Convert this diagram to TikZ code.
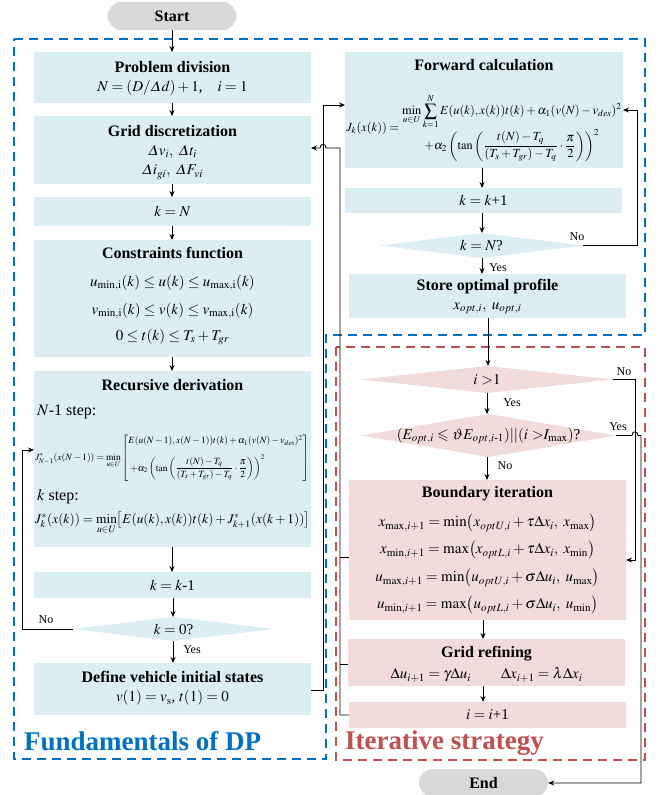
\documentclass[tikz,border=0pt]{standalone}
\usepackage{amsmath}
\usepackage{amssymb}
\usepackage{mathptmx}
\usepackage[no-math]{fontspec}
\setmainfont{Liberation Serif}
\usetikzlibrary{shapes.geometric,arrows.meta,calc}
\definecolor{bfill}{RGB}{218,238,243}
\definecolor{rfill}{RGB}{242,220,219}
\definecolor{pfill}{RGB}{217,217,217}
\definecolor{bframe}{RGB}{0,112,192}
\definecolor{rframe}{RGB}{192,80,77}
\newcommand\myfs[1]{\fontsize{#1}{#1}\selectfont}
\begin{document}
\begin{tikzpicture}[x=1pt,y=-1pt,
 bbox/.style={rectangle,fill=bfill,inner sep=0pt,outer sep=0pt,minimum width=277pt,font={\myfs{15}}},
 rbox/.style={rectangle,fill=rfill,inner sep=0pt,outer sep=0pt,minimum width=277pt,font={\myfs{15}}},
 bdia/.style={diamond,fill=bfill,inner sep=0pt,outer sep=0pt},
 rdia/.style={diamond,fill=rfill,inner sep=0pt,outer sep=0pt},
 pill/.style={rectangle,rounded corners=14pt,fill=pfill,minimum width=129pt,minimum height=28pt,inner sep=0pt,font={\myfs{16}\bfseries}},
 ttl/.style={inner sep=0pt,font={\myfs{16}\bfseries}},
 mth/.style={inner sep=0pt,font={\myfs{15}}},
 lbl/.style={inner sep=0pt,font={\myfs{12}}},
 arr/.style={-{Stealth[length=6pt,width=5pt]},line width=0.9pt},
 ln/.style={line width=0.9pt},
 frm/.style={line width=2pt,dash pattern=on 9pt off 6pt}]
\useasboundingbox (0,0) rectangle (660,795);
% frames
\draw[frm,bframe] (14,39) -- (645,39) -- (645,335) -- (326,335) -- (326,759) -- (14,759) -- cycle;
\draw[frm,rframe] (336,347) rectangle (645,760);
% left column
\node[pill] (start) at (172,16) {Start};
\node[bbox,minimum height=51pt] (prob) at (172.5,77.5) {};
\node[ttl] (probT) at (172.5,67) {Problem division};
\node[mth] (probE) at (172.5,88) {$N=(D/\varDelta d)+1$,\quad$i=1$};
\node[bbox,minimum height=68pt] (grid) at (172.5,150) {};
\node[ttl] (gridT) at (172.5,131) {Grid discretization};
\node[mth] (gridE1) at (172.5,152) {$\varDelta v_i,\ \varDelta t_i$};
\node[mth] (gridE2) at (172.5,172) {$\varDelta i_{gi},\ \varDelta F_{vi}$};
\node[bbox,minimum height=29pt] (kN) at (172.5,211.5) {$k=N$};
\node[bbox,minimum height=117pt] (cons) at (172.5,298.5) {};
\node[ttl] (consT) at (172.5,253) {Constraints function};
\node[mth] (consE1) at (172.5,283) {$u_{\min,\mathrm{i}}(k)\le u(k)\le u_{\max,\mathrm{i}}(k)$};
\node[mth] (consE2) at (172.5,311) {$v_{\min,\mathrm{i}}(k)\le v(k)\le v_{\max,\mathrm{i}}(k)$};
\node[mth] (consE3) at (172.5,337) {$0\le t(k)\le T_s+T_{gr}$};
\node[bbox,minimum height=176pt] (rec) at (172.5,459) {};
\node[ttl] (recT) at (172.5,385) {Recursive derivation};
\node[inner sep=0pt,font={\myfs{16}},anchor=west] (recS1) at (37,412) {$N$-1 step:};
\node[inner sep=0pt,font={\myfs{10}}] (recE1) at (172,458) {\resizebox{274pt}{!}{$J^*_{N-1}(x(N-1))=\min\limits_{u\in U}\left[\begin{array}{@{}l@{}}E(u(N-1),x(N-1))t(k)+\alpha_1(v(N)-v_{des})^2\\[9pt] \;+\alpha_2\left(\tan\left(\dfrac{t(N)-T_q}{(T_s+T_{gr})-T_q}\cdot\dfrac{\pi}{2}\right)\right)^2\end{array}\right]$}};
\node[inner sep=0pt,font={\myfs{16}},anchor=west] (recS2) at (37,497) {$k$ step:};
\node[inner sep=0pt] (recE2) at (172.5,523) {\resizebox{275pt}{!}{$J^*_k(x(k))=\min\limits_{u\in U}\bigl[E(u(k),x(k))t(k)+J^*_{k+1}(x(k+1))\bigr]$}};
\node[bbox,minimum height=26pt] (kk1) at (172.5,585) {$k=k$-1};
\node[bdia,minimum width=201pt,minimum height=24pt] (k0) at (173.5,629) {};
\node[mth] (k0T) at (173.5,629) {$k=0$?};
\node[bbox,minimum height=52pt] (def) at (172.5,689) {};
\node[ttl] (defT) at (172.5,677) {Define vehicle initial states};
\node[mth] (defE) at (172.5,698) {$v(1)=v_{\mathrm{s}}$, $t(1)=0$};
\node[inner sep=0pt,font={\myfs{27}\bfseries},text=bframe,anchor=base west] (fdp) at (24,750) {Fundamentals of DP};
% right column
\node[bbox,minimum width=278pt,minimum height=116pt] (fwd) at (484,110) {};
\node[ttl] (fwdT) at (484,65) {Forward calculation};
\node[inner sep=0pt] (fwdE) at (484,128) {\resizebox{275pt}{!}{$J_k(x(k))=\begin{array}{@{}c@{}}\displaystyle\min_{u\in U}\sum_{k=1}^{N}E(u(k),x(k))t(k)+\alpha_1(v(N)-v_{des})^2\\[4pt] +\alpha_2\left(\tan\left(\dfrac{t(N)-T_q}{(T_s+T_{gr})-T_q}\cdot\dfrac{\pi}{2}\right)\right)^2\end{array}$}};
\node[bbox,minimum height=25pt] (kp1) at (483.5,200.5) {$k=k$+1};
\node[bdia,minimum width=203pt,minimum height=25pt] (kNq) at (481.5,245.5) {};
\node[mth] (kNqT) at (481.5,245.5) {$k=N$?};
\node[bbox,minimum height=44pt] (store) at (487.5,296) {};
\node[ttl] (storeT) at (487.5,287) {Store optimal profile};
\node[mth] (storeE) at (487.5,308) {$x_{opt,i},\ u_{opt,i}$};
\node[rdia,minimum width=252pt,minimum height=27pt] (ig1) at (487,379.5) {};
\node[mth] (ig1T) at (487,379.5) {$i\ {>}1$};
\node[rdia,minimum width=255pt,minimum height=43pt] (conv) at (488.5,435.5) {};
\node[mth] (convT) at (488.5,436) {$(E_{opt,i}\leqslant\vartheta E_{opt,i\text{-}1})||(i\ {>}I_{\max})$?};
\node[rbox,minimum height=140pt] (bnd) at (487.5,550) {};
\node[ttl] (bndT) at (487.5,494) {Boundary iteration};
\node[mth] (bndE1) at (487.5,523) {$x_{\max,i+1}=\min\bigl(x_{optU,i}+\tau\Delta x_i,\ x_{\max}\bigr)$};
\node[mth] (bndE2) at (487.5,550) {$x_{\min,i+1}=\max\bigl(x_{optL,i}+\tau\Delta x_i,\ x_{\min}\bigr)$};
\node[mth] (bndE3) at (487.5,578) {$u_{\max,i+1}=\min\bigl(u_{optU,i}+\sigma\Delta u_i,\ u_{\max}\bigr)$};
\node[mth] (bndE4) at (487.5,605) {$u_{\min,i+1}=\max\bigl(u_{optL,i}+\sigma\Delta u_i,\ u_{\min}\bigr)$};
\node[rbox,minimum height=47pt] (gref) at (486.5,662.5) {};
\node[ttl] (grefT) at (486.5,654) {Grid refining};
\node[mth] (grefE) at (486.5,675) {$\Delta u_{i+1}=\gamma\Delta u_i\qquad\Delta x_{i+1}=\lambda\Delta x_i$};
\node[rbox,minimum height=26pt] (iinc) at (487.5,715) {$i=i$+1};
\node[inner sep=0pt,font={\myfs{27}\bfseries},text=rframe,anchor=base west] (its) at (345,749) {Iterative strategy};
\node[pill] (end) at (483.5,783) {End};
% coordinates
\coordinate (recin) at (34,450);
\coordinate (fwdin) at (345,105);
\coordinate (fwdin2) at (623,110);
\coordinate (gridin) at (311,148);
\coordinate (bndin) at (626,560);
% left arrows
\draw[arr] (start.south -| 172,0) -- (prob.north -| 172,0);
\draw[arr] (prob.south -| 172,0) -- (grid.north -| 172,0);
\draw[arr] (grid.south -| 172,0) -- (kN.north -| 172,0);
\draw[arr] (kN.south -| 172,0) -- (cons.north -| 172,0);
\draw[arr] (cons.south -| 172,0) -- (rec.north -| 172,0);
\draw[arr] (rec.south -| 172,0) -- (kk1.north -| 172,0);
\draw[arr] (kk1.south -| 173,0) -- (k0.north -| 173,0);
\draw[arr] (k0.south -| 173,0) -- (def.north -| 173,0);
\node[lbl] (k0yes) at (192,650) {Yes};
\draw[arr] (k0.west) -- (22,629) |- (recin);
\node[lbl] (k0no) at (46,620) {No};
\draw[arr] (def.east |- 0,690) -- (323,690) |- (fwdin);
% right arrows
\draw[arr] (fwd.south -| 482,0) -- (kp1.north -| 482,0);
\draw[arr] (kp1.south -| 482,0) -- (kNq.north -| 482,0);
\draw[arr] (kNq.south -| 482,0) -- (store.north -| 482,0);
\node[lbl] (kNqyes) at (498,268) {Yes};
\draw[arr] (kNq.east) -- (637,245.5) |- (fwdin2);
\node[lbl] (kNqno) at (577,237) {No};
\draw[arr] (store.south -| 488,0) -- (ig1.north -| 488,0);
\draw[arr] (ig1.south -| 487,0) -- (conv.north -| 487,0);
\node[lbl] (ig1yes) at (512,403) {Yes};
\draw[arr] (conv.south -| 487,0) -- (bnd.north -| 487,0);
\node[lbl] (convno) at (505,466) {No};
\draw[arr] (ig1.east) -- (635,379.5) |- (bndin);
\node[lbl] (ig1no) at (624,372) {No};
\draw[arr] (conv.east) -- (632,435.5) .. controls (632,430.5) and (638,430.5) .. (638,435.5) -- (641,435.5) |- (end.east);
\node[lbl] (convyes) at (618,427) {Yes};
\draw[arr] (bnd.south -| 483,0) -- (gref.north -| 483,0);
\draw[arr] (gref.south -| 483,0) -- (iinc.north -| 483,0);
% loop back to grid
\draw[arr] (iinc.west) -- (340,715) -- (340,148) -- (326,148) .. controls (326,143) and (320,143) .. (320,148) -- (gridin);
\draw[ln] (bnd.west |- 0,557) -- (340,557);
\draw[ln] (gref.west |- 0,664) -- (340,664);
\end{tikzpicture}
\end{document}
